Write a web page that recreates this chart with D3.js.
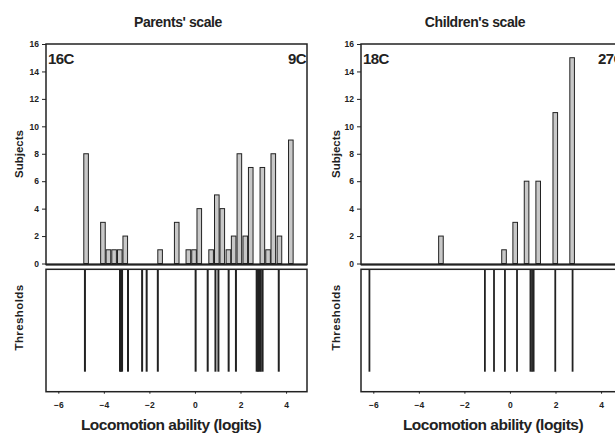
<!DOCTYPE html>
<html>
<head>
<meta charset="utf-8">
<script src="https://cdn.jsdelivr.net/npm/d3@7"></script>
<style>
  body { margin: 0; background: #fff; }
  svg text { font-family: "Liberation Sans", Arial, Helvetica, sans-serif; font-weight: bold; fill: #222; }
</style>
</head>
<body>
<div id="chart"></div>
<script>
// bin centres (logits) and subject counts
var parentBins = [-4.78, -4.04, -3.80, -3.55, -3.30, -3.06, -1.53, -0.80, -0.29, -0.04, 0.19, 0.71,
                  0.96, 1.20, 1.47, 1.70, 1.95, 2.21, 2.45, 2.96, 3.21, 3.44, 3.71, 4.21];
var parentCounts = [8, 3, 1, 1, 1, 2, 1, 3, 1, 1, 4, 1, 5, 4, 1, 2, 8, 2, 7, 7, 1, 8, 2, 9];
var parentThresholds = [-4.83, -3.29, -3.25, -3.20, -2.94, -2.32, -2.12, -1.63, 0.03, 0.56, 0.90, 1.03,
                        1.48, 1.80, 2.71, 2.77, 2.83, 2.89, 2.97, 3.68];

var childBins = [-3.03, -0.26, 0.23, 0.73, 1.24, 1.99, 2.73];
var childCounts = [2, 1, 3, 6, 6, 11, 15];
var childThresholds = [-6.17, -1.10, -0.70, -0.22, 0.31, 0.90, 0.97, 1.04, 1.99, 2.75];

var yTicks = [0, 2, 4, 6, 8, 10, 12, 14, 16];
var xTicks = [-6, -4, -2, 0, 2, 4];

var panels = [
  { title: "Parents' scale", left: "16C", right: "9C", x0: 46, titleX: 178, labelX: 171,
    bins: parentBins, counts: parentCounts, thresholds: parentThresholds, lineW: 2 },
  { title: "Children's scale", left: "18C", right: "27C", x0: 361, titleX: 475, labelX: 493,
    bins: childBins, counts: childCounts, thresholds: childThresholds, lineW: 1.8 }
];

var ink = '#222';
var barFill = '#c8c8c8';
var plotW = 261;
var topY = 44, zeroY = 263.5, thTop = 269.3, thBottom = 391.7, thLineEnd = 371.7;

var svg = d3.select("#chart").append("svg")
  .attr("width", 615)
  .attr("height", 434);

var y = d3.scaleLinear().domain([0, 16]).range([zeroY, topY]);

panels.forEach(function(p, i) {
  var g = svg.append("g");
  var x = d3.scaleLinear().domain([-6.54, 4.92]).range([p.x0, p.x0 + plotW]);
  var shift = i * 317;

  // histogram
  g.selectAll("rect.bar")
    .data(p.bins)
    .enter()
    .append("rect")
      .classed("bar", true)
      .attr("x", function(d) { return x(d) - 2.3; })
      .attr("y", function(d, j) { return y(p.counts[j]); })
      .attr("width", 4.6)
      .attr("height", function(d, j) { return zeroY - y(p.counts[j]); })
      .attr("fill", barFill)
      .attr("stroke", ink)
      .attr("stroke-width", 1);

  // top frame
  g.append("rect")
    .attr("x", p.x0).attr("y", topY)
    .attr("width", plotW).attr("height", 264.5 - topY)
    .attr("fill", "none").attr("stroke", ink).attr("stroke-width", 1.5);
  g.append("line")
    .attr("x1", p.x0).attr("x2", p.x0 + plotW)
    .attr("y1", 264.5).attr("y2", 264.5)
    .attr("stroke", ink).attr("stroke-width", 2);

  // thresholds
  g.selectAll("line.th")
    .data(p.thresholds)
    .enter()
    .append("line")
      .classed("th", true)
      .attr("x1", function(d) { return x(d); })
      .attr("x2", function(d) { return x(d); })
      .attr("y1", thTop)
      .attr("y2", thLineEnd)
      .attr("stroke", ink)
      .attr("stroke-width", p.lineW);

  g.append("rect")
    .attr("x", p.x0).attr("y", thTop)
    .attr("width", plotW).attr("height", thBottom - thTop)
    .attr("fill", "none").attr("stroke", ink).attr("stroke-width", 1.5);

  // axes
  var yAxis = g.append("g")
    .attr("transform", "translate(" + p.x0 + ",0)")
    .call(d3.axisLeft(y).tickValues(yTicks).tickSize(4).tickPadding(3));
  yAxis.select(".domain").remove();

  var xAxis = g.append("g")
    .attr("transform", "translate(0," + thBottom + ")")
    .call(d3.axisBottom(x).tickValues(xTicks).tickSize(2).tickPadding(8));
  xAxis.select(".domain").remove();

  [yAxis, xAxis].forEach(function(a) {
    a.selectAll("line").attr("stroke", ink);
    a.selectAll("text")
      .attr("fill", ink)
      .style("font-size", "8.5px")
      .style("font-family", "'Liberation Sans', Arial, sans-serif")
      .style("font-weight", "bold");
  });

  // texts
  g.append("text")
    .attr("x", p.titleX).attr("y", 27)
    .attr("text-anchor", "middle")
    .style("font-size", "14px")
    .style("letter-spacing", "-0.4px")
    .text(p.title);

  g.append("text")
    .attr("x", p.x0 + 2).attr("y", 64)
    .style("font-size", "15px")
    .style("letter-spacing", "-0.6px")
    .text(p.left);

  g.append("text")
    .attr("x", i == 0 ? p.x0 + plotW - 1 : 598)
    .attr("y", 64)
    .attr("text-anchor", i == 0 ? "end" : "start")
    .style("font-size", "15px")
    .style("letter-spacing", "-0.6px")
    .text(p.right);

  g.append("text")
    .attr("transform", "translate(" + (22.5 + shift) + ",154) rotate(-90)")
    .attr("text-anchor", "middle")
    .style("font-size", "11.5px")
    .text("Subjects");

  g.append("text")
    .attr("transform", "translate(" + (22.5 + shift) + ",317.5) rotate(-90)")
    .attr("text-anchor", "middle")
    .style("font-size", "11.5px")
    .style("letter-spacing", "0.4px")
    .text("Thresholds");

  g.append("text")
    .attr("x", p.labelX).attr("y", 430)
    .attr("text-anchor", "middle")
    .style("font-size", "15.5px")
    .style("letter-spacing", "-0.5px")
    .text("Locomotion ability (logits)");
});
</script>
</body>
</html>
